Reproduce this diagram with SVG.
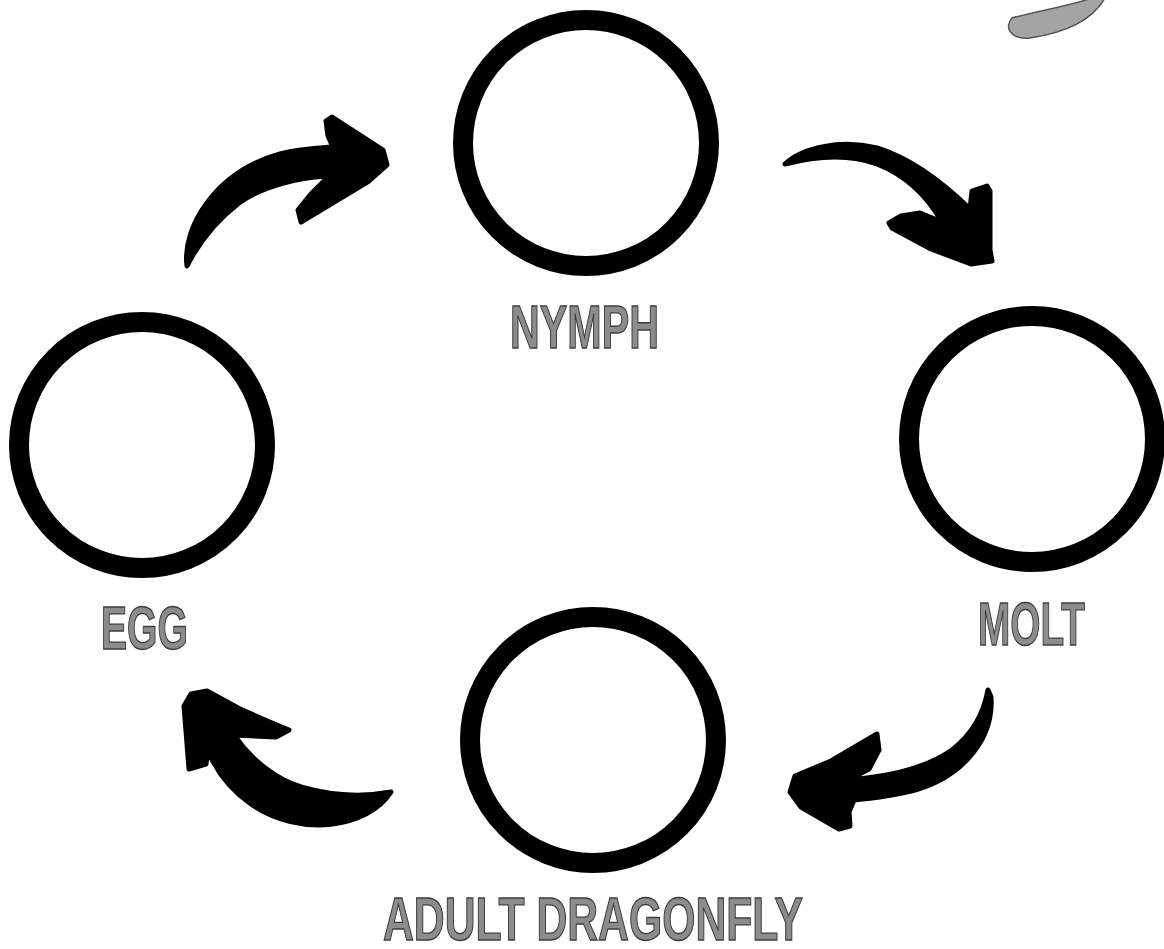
<svg xmlns="http://www.w3.org/2000/svg" width="1164" height="949" viewBox="0 0 1164 949">
<style>
.ring{fill:none;stroke:#000;stroke-width:20}
.lbl{font-family:"Liberation Sans",Arial,sans-serif;font-weight:bold;font-size:62px;fill:#8c8c8c;stroke:#3c3c3c;stroke-width:1.4}
.arrow{fill:#000;stroke:#000;stroke-width:5;stroke-linejoin:round}
</style>
<rect width="1164" height="949" fill="#fff"/>
<path d="M1012,18 C1040,10 1072,6 1098,-4 L1106,-4 C1095,18 1070,32 1030,38 C1012,40 1003,28 1012,18 Z" fill="#a4a4a4" stroke="#555" stroke-width="1.5"/>
<g id="nymph">
<circle class="ring" cx="586" cy="143" r="123"/>
<text class="lbl" x="510" y="348" textLength="149" lengthAdjust="spacingAndGlyphs">NYMPH</text>
</g>
<g id="molt">
<circle class="ring" cx="1032" cy="439" r="123"/>
<text class="lbl" x="978" y="645" textLength="107" lengthAdjust="spacingAndGlyphs">MOLT</text>
</g>
<g id="adult">
<circle class="ring" cx="593" cy="740" r="123"/>
<text class="lbl" x="383" y="940" font-size="60" textLength="420" lengthAdjust="spacingAndGlyphs">ADULT DRAGONFLY</text>
</g>
<g id="egg">
<circle class="ring" cx="142" cy="445" r="123"/>
<text class="lbl" x="101" y="649" textLength="87" lengthAdjust="spacingAndGlyphs">EGG</text>
</g>
<g id="connectors">
<path class="arrow" d="M187,266 C182,228 215,172 280,154 C300,149 320,148 333,147 L328,136 L326,121 L332,117 L383,150 L387,165 L369,181 L301,222 L298,210 L311,194 L329,176 C300,177 262,186 239,203 C217,220 200,240 187,266 Z"/>
<path class="arrow" d="M785,164 C802,148 840,139 877,148 C910,158 942,182 970,209 L972,191 L987,186 L990,191 L990,250 L992,261 L971,264 L931,249 L892,228 L889,223 L901,216 L920,213 L942,222 C930,201 910,177 877,164 C850,154 816,156 785,164 Z"/>
<path class="arrow" d="M988,690 L991,697 C994,740 960,784 897,794 C876,798 862,799 854,800 L849,812 L850,826 L839,829 L801,807 L790,792 L795,776 L831,761 L877,734 L879,750 L869,769 L848,780 C880,777 920,772 952,750 C974,733 984,712 988,690 Z"/>
<path class="arrow" d="M391,792 C368,828 300,838 251,804 C231,790 216,770 208,751 L206,764 L189,769 L184,706 L191,694 L207,691 L240,709 L272,723 L289,730 L276,737 L234,735 C251,760 276,779 301,787 C335,797 364,797 391,792 Z"/>
</g>
</svg>
